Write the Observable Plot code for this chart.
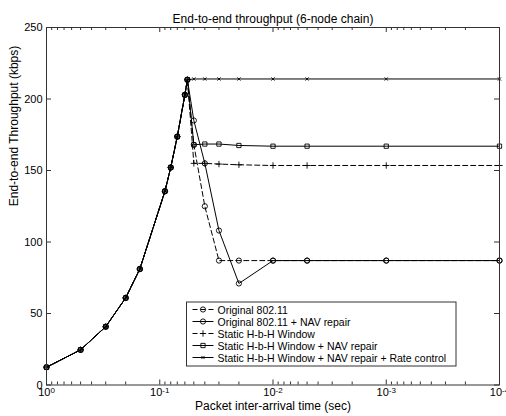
<!DOCTYPE html>
<html><head><meta charset="utf-8">
<script src="https://cdn.jsdelivr.net/npm/d3@7"></script>
<script src="https://cdn.jsdelivr.net/npm/@observablehq/plot@0.6"></script>
<style>
body{margin:0;background:#fff}
#chart{width:506px;height:416px}
svg{font-family:"Liberation Sans",Arial,sans-serif}
</style>
</head><body><div id="chart"></div>
<script>
// ---- data ----
const xValues = [1, 0.5, 0.3, 0.2, 0.15, 0.09, 0.08, 0.07, 0.06, 0.057, 0.05, 0.04, 0.03, 0.02, 0.01, 0.005, 0.001, 0.0001];
const seriesNames = [
  "Original 802.11",
  "Original 802.11 + NAV repair",
  "Static H-b-H Window",
  "Static H-b-H Window + NAV repair",
  "Static H-b-H Window + NAV repair + Rate control"
];
const original      = [12.4, 24.6, 40.8, 60.9, 81.1, 135.5, 152.1, 173.7, 202.9, 213.5, 168, 125, 87, 87, 87, 87, 87, 87];
const originalNav   = [12.4, 24.6, 40.8, 60.9, 81.1, 135.5, 152.1, 173.7, 202.9, 213.5, 185, 155, 108, 71, 87, 87, 87, 87];
const staticWin     = [12.4, 24.6, 40.8, 60.9, 81.1, 135.5, 152.1, 173.7, 202.9, 213.5, 155, 155, 154.5, 154, 153.5, 153.5, 153.5, 153.5];
const staticWinNav  = [12.4, 24.6, 40.8, 60.9, 81.1, 135.5, 152.1, 173.7, 202.9, 213.5, 168, 168.5, 168.5, 167.5, 167, 167, 167, 167];
const staticWinRate = [12.4, 24.6, 40.8, 60.9, 81.1, 135.5, 152.1, 173.7, 202.9, 213.5, 214, 214, 214, 214, 214, 214, 214, 214];
const seriesValues = [original, originalNav, staticWin, staticWinNav, staticWinRate];
const yTicks = [0, 50, 100, 150, 200, 250];
const xMajorTicks = [1, 0.1, 0.01, 0.001, 0.0001];
const xTickExponents = ["0", "-1", "-2", "-3", "-4"];
const titleText = "End-to-end throughput (6-node chain)";
const xLabel = "Packet inter-arrival time (sec)";
const yLabel = "End-to-end Throughput (kbps)";

// ---- styles ----
const styles = [
  {symbol: "circle", r: 2.6, dash: "5,3"},
  {symbol: "circle", r: 2.6, dash: null},
  {symbol: "plus", r: 2.2, dash: "5,3"},
  {symbol: "square", r: 2.4, dash: null},
  {symbol: "times", r: 1.6, dash: null}
];

const rows = [];
seriesNames.forEach((name, i) => xValues.forEach((x, j) => rows.push({series: name, x, y: seriesValues[i][j]})));

const W = 506, H = 416, mL = 46, mR = 7, mT = 27, mB = 31.5;
const plotW = W - mL - mR, plotH = H - mT - mB;
const xMinor = d3.scaleLog().domain([1e-4, 1]).ticks().filter(t => !xMajorTicks.some(m => Math.abs(m - t) < m * 1e-6));

const symMap = {circle: d3.symbolCircle, square: d3.symbolSquare, plus: d3.symbolPlus, times: d3.symbolTimes};

const seriesMarks = [];
seriesNames.forEach((name, i) => {
  const data = rows.filter(d => d.series === name);
  const s = styles[i];
  seriesMarks.push(Plot.line(data, {x: "x", y: "y", stroke: "#000", strokeWidth: 1, strokeDasharray: s.dash}));
  seriesMarks.push(Plot.dot(data, {x: "x", y: "y", symbol: () => symMap[s.symbol], r: s.r, stroke: "#000", fill: "none", strokeWidth: 0.9}));
});

const chart = Plot.plot({
  width: W, height: H,
  marginLeft: mL, marginRight: mR, marginTop: mT, marginBottom: mB,
  style: {fontFamily: '"Liberation Sans", Arial, sans-serif', background: "#fff"},
  x: {type: "log", domain: [1e-4, 1], reverse: true},
  y: {domain: [0, 250]},
  symbol: {type: "identity"},
  marks: [
    Plot.axisY(yTicks, {tickSize: 0, tickPadding: 4, fontSize: 11, fill: "#000", label: null}),
    Plot.axisX(xMajorTicks, {tickSize: 0, tickPadding: 3.5, fontSize: 11, fill: "#000", label: null, tickFormat: () => "10"}),
    // inward ticks
    Plot.tickX(xMajorTicks, {x: d => d, insetTop: plotH - 5, stroke: "#333"}),
    Plot.tickX(xMajorTicks, {x: d => d, insetBottom: plotH - 5, stroke: "#333"}),
    Plot.tickX(xMinor, {x: d => d, insetTop: plotH - 3, stroke: "#333"}),
    Plot.tickX(xMinor, {x: d => d, insetBottom: plotH - 3, stroke: "#333"}),
    Plot.tickY(yTicks, {y: d => d, insetRight: plotW - 5, stroke: "#333"}),
    Plot.tickY(yTicks, {y: d => d, insetLeft: plotW - 5, stroke: "#333"}),
    ...seriesMarks,
    Plot.frame({stroke: "#333"}),
    Plot.text([titleText], {frameAnchor: "top", dy: -13, fontSize: 12, fill: "#000"}),
    Plot.text([xLabel], {frameAnchor: "bottom", dy: 24.5, fontSize: 12, fill: "#000"}),
    Plot.text([yLabel], {frameAnchor: "left", dx: -32, rotate: -90, fontSize: 12, fill: "#000"})
  ]
});

document.getElementById("chart").appendChild(chart);

// superscript exponents on x tick labels
const svg = d3.select(chart);
svg.selectAll('g[aria-label="x-axis tick label"] text').each(function(d, i) {
  const t = d3.select(this);
  t.text("10");
  t.append("tspan").attr("dy", "-0.45em").attr("font-size", 8).text(xTickExponents[i]);
});

// legend
const lx = 186.5, ly = 302, lw = 269.5, lh = 64;
const lg = svg.append("g").attr("font-size", 10.5).attr("text-anchor", "start");
lg.append("rect").attr("x", lx).attr("y", ly).attr("width", lw).attr("height", lh)
  .attr("fill", "#fff").attr("stroke", "#333");
seriesNames.forEach((name, i) => {
  const s = styles[i];
  const cy = ly + 7.5 + i * 12;
  lg.append("line").attr("x1", lx + 6).attr("x2", lx + 27).attr("y1", cy).attr("y2", cy)
    .attr("stroke", "#000").attr("stroke-dasharray", s.dash);
  lg.append("path").attr("transform", `translate(${lx + 16.5},${cy})`)
    .attr("d", d3.symbol(symMap[s.symbol], s.r * s.r * Math.PI)())
    .attr("fill", "none").attr("stroke", "#000").attr("stroke-width", 0.9);
  lg.append("text").attr("x", lx + 31).attr("y", cy + 4).attr("fill", "#000").attr("text-anchor", "start").text(name);
});
</script>
</body></html>
